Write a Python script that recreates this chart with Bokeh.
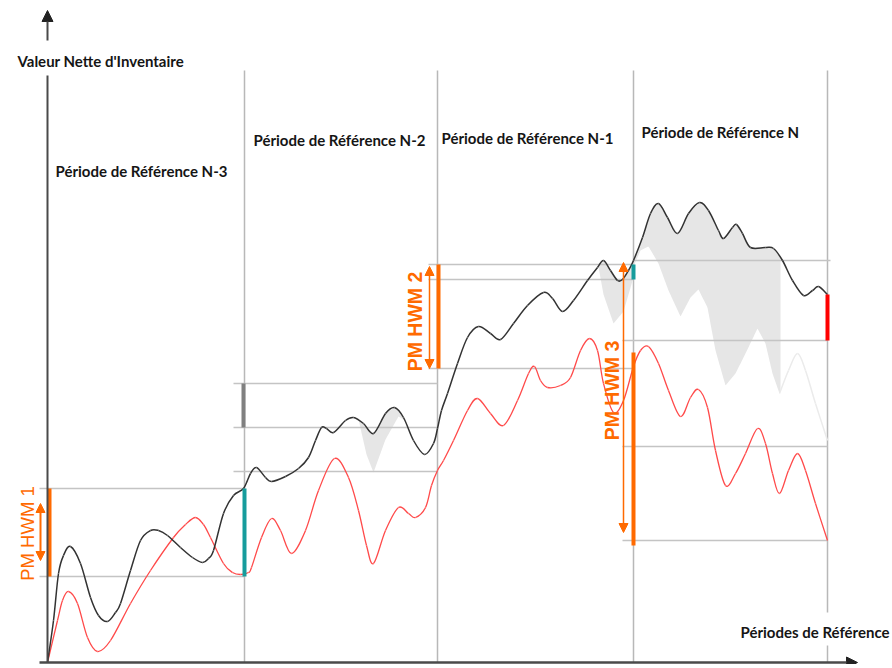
import numpy as np
from bokeh.plotting import figure
from bokeh.models import Range1d, Arrow, NormalHead, Label
from bokeh.embed import file_html
from bokeh.resources import INLINE

# ---------------- data (x: time units, y: NAV units) ----------------
period_bounds = [0, 197, 390, 586, 780]
period_labels = ["Période de Référence N-3", "Période de Référence N-2",
                 "Période de Référence N-1", "Période de Référence N"]
period_label_x = [8, 206, 394, 594]
period_label_y = [492, 523, 525, 531]

nav_x = [0, 6, 11, 16, 23, 33, 43, 51, 60, 68, 73, 83, 93, 103, 111, 120, 133, 145, 155, 161, 166, 176, 186, 196,
         203, 209, 218, 224, 238, 251, 261, 268, 274, 279, 286, 298, 306, 316, 326, 338, 347, 356, 366, 377, 386, 390,
         394, 400, 410, 420, 431, 443, 453, 466, 480, 496, 505, 515, 526, 540, 550, 556, 563, 570, 575, 581, 586,
         595, 603, 611, 620, 630, 641, 652, 661, 671, 676, 685, 689, 695, 703, 718, 726, 735, 745, 756, 765, 771, 780]
nav_y = [0, 42, 89, 107, 116, 99, 65, 47, 41, 50, 59, 92, 122, 132, 132, 127, 115, 105, 100, 104, 112, 149, 167, 174,
         189, 195, 185, 181, 186, 194, 205, 222, 235, 234, 230, 242, 245, 239, 229, 249, 255, 245, 222, 208, 219, 234,
         252, 269, 299, 325, 336, 329, 323, 339, 357, 370, 364, 351, 362, 382, 395, 402, 392, 382, 383, 392, 402,
         425, 449, 459, 445, 429, 449, 460, 452, 432, 424, 435, 438, 429, 415, 415, 414, 402, 382, 367, 372, 376, 368]

bench_x = [0, 10, 15, 21, 30, 40, 50, 63, 83, 103, 126, 138, 148, 156, 163, 176, 185, 193,
           201, 204, 214, 224, 233, 244, 258, 271, 287, 301, 311, 319, 326, 338, 351, 361, 368, 378, 384, 390,
           396, 406, 420, 430, 443, 456, 470, 481, 487, 493, 500, 513, 523, 533, 542, 550, 556, 566, 576, 586,
           593, 601, 611, 621, 633, 643, 651, 660, 668, 678, 688, 698, 710, 718, 725, 732, 741, 750, 758, 768, 780]
bench_y = [0, 42, 62, 71, 59, 25, 11, 22, 59, 92, 125, 138, 145, 138, 125, 99, 90, 88,
           90, 95, 125, 144, 132, 109, 132, 172, 204, 185, 152, 117, 99, 132, 155, 149, 145, 155, 177, 192,
           202, 222, 252, 264, 249, 237, 262, 289, 296, 282, 275, 277, 285, 312, 324, 312, 279, 250, 262, 296,
           312, 316, 299, 272, 246, 265, 273, 255, 212, 177, 189, 209, 234, 219, 189, 169, 192, 209, 192, 159, 122]

# reference levels (horizontal guide lines)
ref_y = [174, 86, 279, 235, 191, 398, 383, 294, 402, 322, 216, 122]
ref_x0 = [-8, -8, 186, 186, 186, 381, 381, 381, 586, 575, 575, 575]
ref_x1 = [197, 197, 390, 390, 390, 586, 586, 586, 783, 780, 780, 780]

# shaded "ghost" comparisons: window start, end, shift of benchmark
ghost_x0 = [300, 545, 586]
ghost_x1 = [365, 586, 733]
ghost_shift = [91, 89, 100]

# performance-fee bars
bar_x = [2, 197, 196, 391, 586, 586, 780]
bar_y0 = [86, 86, 235, 294, 383, 117, 322]
bar_y1 = [174, 174, 279, 398, 398, 310, 368]
bar_color = ["#ff6a00", "#169c9c", "#808080", "#ff6a00", "#169c9c", "#ff6a00", "#ff0000"]

hwm_labels = ["PM HWM 1", "PM HWM 2", "PM HWM 3"]
hwm_arrow_x = [-7, 382, 576]
hwm_arrow_y0 = [102, 294, 130]
hwm_arrow_y1 = [159, 396, 400]
hwm_text_x = [-20, 367, 564]
hwm_text_y = [129, 341, 272]
hwm_text_style = ["normal", "bold", "bold"]

ORANGE = "#ff6a00"


def smooth_segments(xs, ys):
    """Catmull-Rom -> cubic Bezier control points through the given points."""
    P = np.column_stack([xs, ys]).astype(float)
    Pm = np.vstack([P[0], P, P[-1]])
    p0, p1, p2, p3 = Pm[:-3], Pm[1:-2], Pm[2:-1], Pm[3:]
    c0 = p1 + (p2 - p0) / 6.0
    c1 = p2 - (p3 - p1) / 6.0
    return dict(x0=p1[:, 0], y0=p1[:, 1], x1=p2[:, 0], y1=p2[:, 1],
                cx0=c0[:, 0], cy0=c0[:, 1], cx1=c1[:, 0], cy1=c1[:, 1])


p = figure(width=890, height=664, x_range=Range1d(-47, 843), y_range=Range1d(-2, 662),
           output_backend="svg", toolbar_location=None, min_border=0)
p.axis.visible = False
p.xgrid.visible = False
p.ygrid.visible = False
p.outline_line_color = None
p.background_fill_color = "white"

# vertical period separators
sep_x = period_bounds[1:]
p.segment(x0=sep_x[:3], y0=[0] * 3, x1=sep_x[:3], y1=[592] * 3, line_color="#b8b8b8", line_width=1.5)
p.segment(x0=[sep_x[3], sep_x[3]], y0=[50, 0], x1=[sep_x[3], sep_x[3]], y1=[592, 17],
          line_color="#b8b8b8", line_width=1.5)

# ghost fills
nx = np.array(nav_x, float); ny = np.array(nav_y, float)
bx = np.array(bench_x, float); by = np.array(bench_y, float)
for x0, x1, sh in zip(ghost_x0, ghost_x1, ghost_shift):
    xs = np.linspace(x0, x1, 300)
    b = np.interp(xs, nx, ny)
    g = np.interp(xs, bx, by) + sh
    p.varea(x=xs, y1=np.minimum(g, b), y2=b, fill_color="#e6e6e6")
# faint ghost continuation in last period
gi = [i for i, x in enumerate(bench_x) if x >= ghost_x1[2] - 5]
p.bezier(**smooth_segments([bench_x[i] for i in gi], [bench_y[i] + ghost_shift[2] for i in gi]),
         line_color="#ebebeb", line_width=1.5)

# horizontal reference lines
p.segment(x0=ref_x0, y0=ref_y, x1=ref_x1, y1=ref_y, line_color="#c4c4c4", line_width=1.5)

# curves (smooth through the read points)
p.bezier(**smooth_segments(bench_x, bench_y), line_color="#ff4a4a", line_width=1.3)
p.bezier(**smooth_segments(nav_x, nav_y), line_color="#333333", line_width=1.5)

# bars
p.segment(x0=bar_x, y0=bar_y0, x1=bar_x, y1=bar_y1, line_color=bar_color, line_width=4)

# axes
p.segment(x0=[0], y0=[0], x1=[0], y1=[587], line_color="#4a4a4a", line_width=2)
p.add_layout(Arrow(end=NormalHead(size=11, fill_color="#222", line_color="#222"),
                   x_start=0, y_start=622, x_end=0, y_end=652, line_color="#4a4a4a", line_width=2))
p.add_layout(Arrow(end=NormalHead(size=11, fill_color="#222", line_color="#222"),
                   x_start=-8, y_start=0, x_end=810, y_end=0, line_color="#4a4a4a", line_width=2.5))

# HWM arrows and labels
for i in range(3):
    p.add_layout(Arrow(start=NormalHead(size=9, fill_color=ORANGE, line_color=ORANGE),
                       end=NormalHead(size=9, fill_color=ORANGE, line_color=ORANGE),
                       x_start=hwm_arrow_x[i], y_start=hwm_arrow_y0[i],
                       x_end=hwm_arrow_x[i], y_end=hwm_arrow_y1[i],
                       line_color=ORANGE, line_width=1.5 if i else 2))
    p.add_layout(Label(x=hwm_text_x[i], y=hwm_text_y[i], text=hwm_labels[i], angle=np.pi / 2,
                       text_align="center", text_baseline="middle", text_color=ORANGE,
                       text_font="Liberation Sans", text_font_size="18.5px" if i == 0 else "19.5px",
                       text_font_style=hwm_text_style[i]))

# period labels
for t, x, y in zip(period_labels, period_label_x, period_label_y):
    p.add_layout(Label(x=x, y=y, text=t, text_align="left", text_baseline="middle",
                       text_font="Lato", text_font_size="15px", text_font_style="bold", text_color="#151515"))

p.add_layout(Label(x=-30, y=602, text="Valeur Nette d'Inventaire", text_align="left", text_baseline="middle",
                   text_font="Lato", text_font_size="15px", text_font_style="bold", text_color="#151515"))
p.add_layout(Label(x=693, y=31, text="Périodes de Référence", text_align="left", text_baseline="middle",
                   text_font="Lato", text_font_size="15px", text_font_style="bold", text_color="#151515"))

open("out.html", "w").write(file_html(p, INLINE))
